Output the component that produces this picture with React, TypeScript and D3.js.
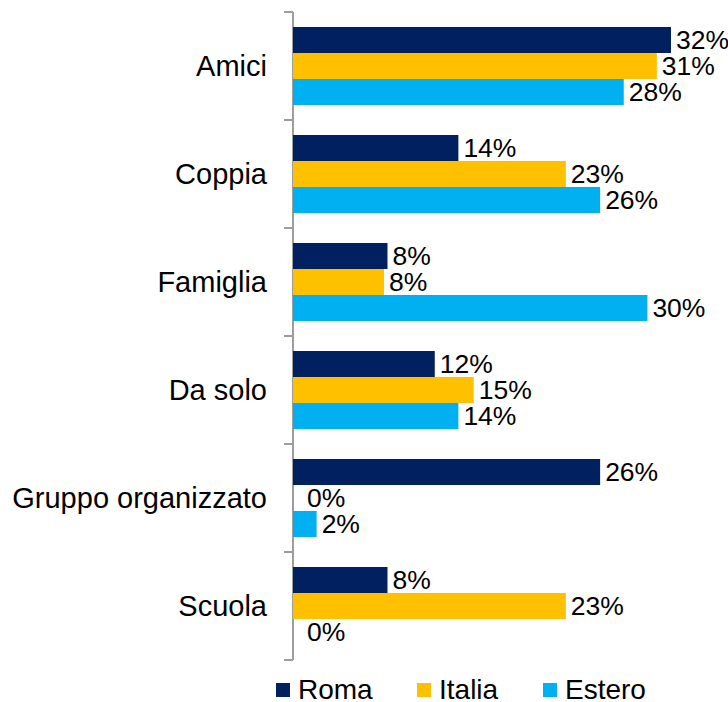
import * as d3 from "d3";
import React, { useEffect, useRef } from "react";

const categories = ["Amici", "Coppia", "Famiglia", "Da solo", "Gruppo organizzato", "Scuola"];
const series = ["Roma", "Italia", "Estero"];
const roma = [32, 14, 8, 12, 26, 8];
const italia = [30.8, 23.1, 7.7, 15.3, 0, 23.1];
const estero = [28, 26, 30, 14, 2, 0];
const colors = ["#002060", "#FFC000", "#00B0F0"];

const W = 728,
  H = 702;
const font = "'Liberation Sans', Arial, sans-serif";

export default function App() {
  const ref = useRef<SVGSVGElement>(null);

  useEffect(() => {
    const svg = d3.select(ref.current);
    svg.selectAll("*").remove();

    const values = [roma, italia, estero];

    const x = d3.scaleLinear().domain([0, 32]).range([293, 671]);
    const y = d3.scaleBand().domain(categories).range([12, 660]);
    const ySub = d3
      .scaleBand()
      .domain(series)
      .range([0, y.bandwidth()])
      .paddingOuter(15 / 26);

    // axis
    const axis = svg.append("g").attr("stroke", "#9d9d9d").attr("stroke-width", 2);
    axis.append("line").attr("x1", x(0)).attr("x2", x(0)).attr("y1", 12).attr("y2", 660);
    const bounds = categories.map((c) => y(c)).concat([660]);
    bounds.forEach((b) =>
      axis.append("line").attr("x1", x(0) - 9).attr("x2", x(0)).attr("y1", b).attr("y2", b)
    );

    // category labels
    categories.forEach((c) =>
      svg
        .append("text")
        .attr("x", 267)
        .attr("y", y(c) + y.bandwidth() / 2)
        .attr("dy", "0.35em")
        .attr("text-anchor", "end")
        .style("font-family", font)
        .style("font-size", "29px")
        .attr("fill", "#000")
        .text(c)
    );

    // bars and labels
    series.forEach((s, si) => {
      categories.forEach((c, ci) => {
        const v = values[si][ci];
        const yy = y(c) + ySub(s);
        svg
          .append("rect")
          .attr("x", x(0))
          .attr("y", yy)
          .attr("width", x(v) - x(0))
          .attr("height", ySub.bandwidth())
          .attr("fill", colors[si]);
        svg
          .append("text")
          .attr("x", x(v) + (v === 0 ? 14 : 5))
          .attr("y", yy + ySub.bandwidth() / 2)
          .attr("dy", "0.35em")
          .style("font-family", font)
          .style("font-size", "26.5px")
          .attr("fill", "#000")
          .text(Math.round(v) + "%");
      });
    });

    // legend
    const legendX = [276, 417, 543];
    series.forEach((s, i) => {
      svg
        .append("rect")
        .attr("x", legendX[i])
        .attr("y", 683)
        .attr("width", 14)
        .attr("height", 14)
        .attr("fill", colors[i]);
      svg
        .append("text")
        .attr("x", legendX[i] + 22)
        .attr("y", 689)
        .attr("dy", "0.35em")
        .style("font-family", font)
        .style("font-size", "28px")
        .attr("fill", "#000")
        .text(s);
    });
  }, []);

  return (
    <svg
      ref={ref}
      width={W}
      height={H}
      style={{ position: "absolute", left: 0, top: 0, background: "#fff" }}
    ></svg>
  );
}
